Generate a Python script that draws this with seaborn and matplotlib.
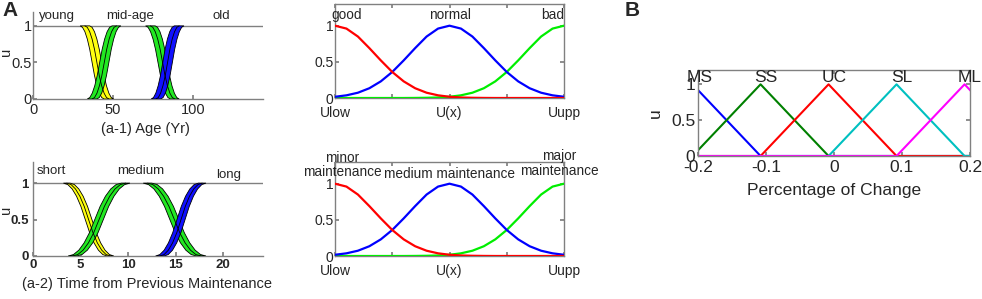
import numpy as np
import pandas as pd
import matplotlib
matplotlib.use("Agg")
import matplotlib.pyplot as plt
import seaborn as sns

# ---------------- data ----------------
# shared S-shaped edge profile of the panel-A bands (falling form)
profile_t = [0.0, 0.1, 0.2, 0.3, 0.4, 0.5, 0.6, 0.7, 0.8, 0.9, 1.0]
profile_u = [1.0, 0.98, 0.92, 0.82, 0.68, 0.50, 0.32, 0.18, 0.08, 0.02, 0.0]

# (a-1) Age bands: each band = two S-edges (start x -> end x)
age_dir = ["fall", "rise", "fall", "rise"]
age_e1_start = [29.5, 34.0, 70.5, 74.0]
age_e1_end = [44.5, 49.5, 86.0, 88.5]
age_e2_start = [35.5, 40.0, 76.5, 80.0]
age_e2_end = [50.5, 55.0, 91.5, 94.5]
age_labels = ["young", "mid-age", "old"]
age_label_x = [15, 61, 118]
age_ticks = [0, 50, 100]

# (a-2) Time from previous maintenance bands
time_dir = ["fall", "rise", "fall", "rise"]
time_e1_start = [3.2, 3.7, 11.6, 12.9]
time_e1_end = [7.8, 9.3, 17.2, 17.4]
time_e2_start = [3.9, 4.6, 12.5, 13.8]
time_e2_end = [8.5, 10.2, 18.2, 18.2]
time_labels = ["short", "medium", "long"]
time_label_x = [1.9, 11.3, 20.6]
time_ticks = [0, 5, 10, 15, 20]

# middle panels: membership values on the normalised U scale
u_grid = [0.00, 0.05, 0.10, 0.15, 0.20, 0.25, 0.30, 0.35, 0.40, 0.45, 0.50,
          0.55, 0.60, 0.65, 0.70, 0.75, 0.80, 0.85, 0.90, 0.95, 1.00]
u_low = [1.00, 0.96, 0.85, 0.69, 0.52, 0.36, 0.23, 0.135, 0.073, 0.037, 0.017,
         0.007, 0.003, 0.001, 0.0, 0.0, 0.0, 0.0, 0.0, 0.0, 0.0]
u_mid = [0.017, 0.037, 0.073, 0.135, 0.23, 0.36, 0.52, 0.69, 0.85, 0.96, 1.00,
         0.96, 0.85, 0.69, 0.52, 0.36, 0.23, 0.135, 0.073, 0.037, 0.017]
u_high = [0.0, 0.0, 0.0, 0.0, 0.0, 0.0, 0.0, 0.001, 0.003, 0.007, 0.017,
          0.037, 0.073, 0.135, 0.23, 0.36, 0.52, 0.69, 0.85, 0.96, 1.00]
u_tick_labels = ["Ulow", "", "U(x)", "", "Uupp"]
cond_labels = ["good", "normal", "bad"]
maint_labels = ["minor\nmaintenance", "medium maintenance", "major\nmaintenance"]

# panel B: triangular memberships
change_names = ["MS", "SS", "UC", "SL", "ML"]
change_peaks = [-0.208, -0.108, -0.008, 0.092, 0.192]
change_halfwidth = 0.1
change_label_x = [-0.197, -0.1, 0.0, 0.1, 0.2]
change_ticks = [-0.2, -0.1, 0, 0.1, 0.2]

# ---------------- style ----------------
sns.set_theme(style="white")
plt.rcParams["font.family"] = ["Liberation Sans", "DejaVu Sans"]
GRAY = "#808080"

W, H = 982, 299
fig = plt.figure(figsize=(W / 100, H / 100), dpi=100)


def rect(l, t, r, b):
    return [l / W, 1 - b / H, (r - l) / W, (b - t) / H]


band_colors = ["#ffff10", "#22e822", "#22e822", "#1010ff"]


def draw_bands(ax, dirs, s1, e1, s2, e2):
    t = np.array(profile_t)
    pu = np.array(profile_u)
    ax.axhline(1, color=GRAY, lw=1.0, zorder=1)
    for k in range(len(dirs)):
        y = pu if dirs[k] == "fall" else 1 - pu
        x1 = s1[k] + t * (e1[k] - s1[k])
        x2 = s2[k] + t * (e2[k] - s2[k])
        px = np.concatenate([x1, x2[::-1]])
        py = np.concatenate([y, y[::-1]])
        ax.fill(px, py, facecolor=band_colors[k], edgecolor="black",
                lw=0.6, zorder=3)
        df = pd.DataFrame({"x": (x1 + x2) / 2, "u": y})
        sns.lineplot(data=df, x="x", y="u", sort=False, estimator=None,
                     color="black", lw=0.6, ax=ax, zorder=4)


def style_a(ax):
    for s in ["top", "right"]:
        ax.spines[s].set_visible(False)
    for s in ["left", "bottom"]:
        ax.spines[s].set_color(GRAY)
        ax.spines[s].set_linewidth(1.0)
    ax.tick_params(direction="in", length=3, color=GRAY, left=True,
                   bottom=True, pad=2)


# ---- (a-1) ----
ax = fig.add_axes(rect(33, 12, 263, 99))
draw_bands(ax, age_dir, age_e1_start, age_e1_end, age_e2_start, age_e2_end)
ax.set_xlim(0, 144)
ax.set_ylim(0, 1.19)
style_a(ax)
ax.set_xticks(age_ticks)
ax.set_yticks([0, 0.5, 1])
ax.set_yticklabels(["0", "0.5", "1"])
ax.tick_params(axis="both", labelsize=10.5)
ax.tick_params(axis="y", pad=1)
ax.tick_params(axis="x", pad=3)
for lab, x in zip(age_labels, age_label_x):
    ax.text(x, 1.14, lab, ha="center", va="center", fontsize=9.5)
ax.set_xlabel("(a-1) Age (Yr)", fontsize=10.5)
ax.xaxis.set_label_coords(0.49, -0.26)
ax.set_ylabel("u", fontsize=10.5)
ax.yaxis.set_label_coords(-0.088, 0.54)

# ---- (a-2) ----
ax = fig.add_axes(rect(33, 162, 263, 256))
draw_bands(ax, time_dir, time_e1_start, time_e1_end, time_e2_start, time_e2_end)
ax.set_xlim(0, 24.2)
ax.set_ylim(0, 1.29)
style_a(ax)
ax.set_xticks(time_ticks)
ax.set_yticks([0, 0.5, 1])
ax.set_yticklabels(["0", "0.5", "1"])
ax.tick_params(axis="both", labelsize=9.5)
for lbl in ax.get_xticklabels() + ax.get_yticklabels():
    lbl.set_fontweight("bold")
ax.tick_params(axis="y", pad=3)
ax.tick_params(axis="x", pad=2)
for lab, x, y in zip(time_labels, time_label_x, [1.16, 1.17, 1.11]):
    ax.text(x, y, lab, ha="center", va="center", fontsize=9.5)
ax.set_xlabel("(a-2) Time from Previous Maintenance", fontsize=10.5)
ax.xaxis.set_label_coords(0.497, -0.22)
ax.set_ylabel("u", fontsize=10.5)
ax.yaxis.set_label_coords(-0.088, 0.49)

# ---- middle panels ----
mid_df = pd.DataFrame({
    "x": u_grid * 3,
    "u": u_high + u_mid + u_low,
    "set": ["high"] * len(u_grid) + ["mid"] * len(u_grid) + ["low"] * len(u_grid),
})
mid_pal = {"low": "#ff0000", "mid": "#0000ff", "high": "#00ee00"}


def draw_mid(ax, labels, label_pos):
    sns.lineplot(data=mid_df, x="x", y="u", hue="set", palette=mid_pal,
                 hue_order=["high", "mid", "low"], sort=False, estimator=None,
                 lw=1.6, legend=False, ax=ax, zorder=3)
    ax.set_xlim(0, 1)
    ax.set_ylim(0, 1.3)
    for s in ax.spines.values():
        s.set_color(GRAY)
        s.set_linewidth(1.0)
        s.set_visible(True)
    ax.set_xticks([0, 0.25, 0.5, 0.75, 1])
    ax.set_xticklabels(u_tick_labels)
    ax.set_yticks([0, 0.5, 1])
    ax.set_yticklabels(["0", "0.5", "1"])
    ax.tick_params(direction="in", length=3, color=GRAY, left=True,
                   bottom=True, top=True, right=True, labelsize=10)
    ax.tick_params(axis="y", pad=1)
    ax.tick_params(axis="x", pad=5.5)
    ax.set_xlabel("")
    ax.set_ylabel("")
    for lab, (x, y) in zip(labels, label_pos):
        ax.text(x, y, lab, ha="center", va="center", fontsize=9.8,
                linespacing=1.05)


ax = fig.add_axes(rect(335, 4, 564, 98))
draw_mid(ax, cond_labels, [(0.05, 1.15), (0.5, 1.15), (0.95, 1.15)])
ax = fig.add_axes(rect(335, 162, 564, 256))
draw_mid(ax, maint_labels, [(0.03, 1.26), (0.5, 1.14), (0.98, 1.28)])

# ---- panel B ----
rows = []
for name, p in zip(change_names, change_peaks):
    xs = [-0.35, p - change_halfwidth, p, p + change_halfwidth, 0.35]
    us = [0, 0, 1, 0, 0]
    for x, u in zip(xs, us):
        rows.append({"x": x, "u": u, "set": name})
b_df = pd.DataFrame(rows)
b_pal = {"MS": "#0000ff", "SS": "#008000", "UC": "#ff0000",
         "SL": "#00c0c0", "ML": "#ff00ff"}
ax = fig.add_axes(rect(698, 70, 970, 156))
sns.lineplot(data=b_df, x="x", y="u", hue="set", palette=b_pal,
             hue_order=change_names, sort=False, estimator=None, lw=1.5,
             legend=False, ax=ax)
ax.set_xlim(-0.2, 0.2)
ax.set_ylim(0, 1.2)
for s in ax.spines.values():
    s.set_color(GRAY)
    s.set_linewidth(1.0)
    s.set_visible(True)
ax.set_xticks(change_ticks)
ax.set_xticklabels(["-0.2", "-0.1", "0", "0.1", "0.2"])
ax.set_yticks([0, 0.5, 1])
ax.set_yticklabels(["0", "0.5", "1"])
ax.tick_params(direction="in", length=3, color=GRAY, left=True, bottom=True,
               top=True, right=True, labelsize=12.5)
ax.tick_params(axis="y", pad=2)
ax.tick_params(axis="x", pad=3)
for name, x in zip(change_names, change_label_x):
    ax.text(x, 1.1, name, ha="center", va="center", fontsize=12.5)
ax.set_xlabel("Percentage of Change", fontsize=12.5)
ax.xaxis.set_label_coords(0.5, -0.31)
ax.set_ylabel("u", fontsize=12.5)
ax.yaxis.set_label_coords(-0.13, 0.5)

# panel letters
fig.text(10 / W, 1 - 11 / H, "A", fontsize=15, fontweight="bold",
         ha="center", va="center")
fig.text(632 / W, 1 - 10 / H, "B", fontsize=15, fontweight="bold",
         ha="center", va="center")

fig.savefig("out.png", dpi=100)
